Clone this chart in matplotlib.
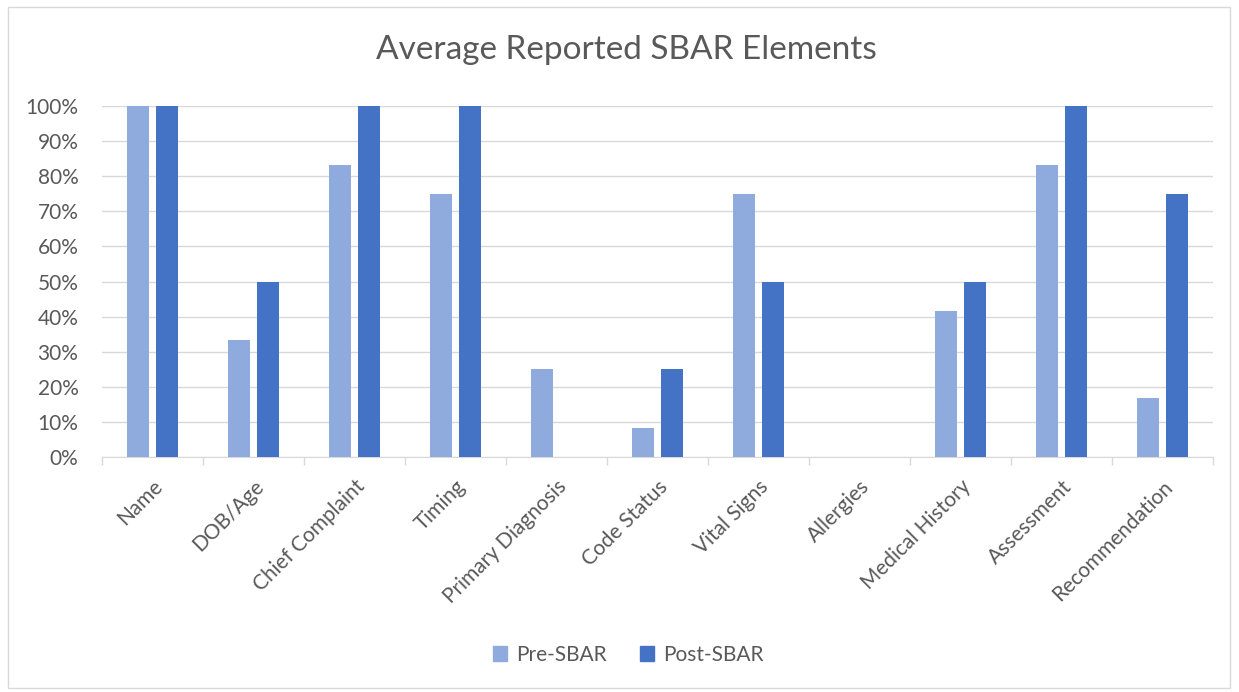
import matplotlib.pyplot as plt
import matplotlib.patches as mpatches
import numpy as np

plt.rcParams['font.family'] = ['Lato', 'DejaVu Sans']

categories = ["Name", "DOB/Age", "Chief Complaint", "Timing", "Primary Diagnosis",
              "Code Status", "Vital Signs", "Allergies", "Medical History",
              "Assessment", "Recommendation"]
pre_sbar = [100, 33.3, 83.3, 75, 25, 8.3, 75, 0, 41.7, 83.3, 16.7]
post_sbar = [100, 50, 100, 100, 0, 25, 50, 0, 50, 100, 75]

c_pre = "#8FAADC"
c_post = "#4472C4"
texte = "#595959"
grille = "#D9D9D9"

fig = plt.figure(figsize=(12.39, 6.92), dpi=100)
ax = fig.add_axes([102 / 1239, 1 - 457 / 692, 1111 / 1239, 351 / 692])

# bordure du graphique
fig.patches.append(mpatches.Rectangle((8 / 1239, 1 - 688 / 692), 1222 / 1239, 681 / 692,
                                      transform=fig.transFigure, fill=False,
                                      edgecolor="#D9D9D9", linewidth=1))

x = np.arange(len(categories))
largeur = 0.22
ax.bar(x - 0.145, pre_sbar, largeur, color=c_pre, label="Pre-SBAR", zorder=3)
ax.bar(x + 0.145, post_sbar, largeur, color=c_post, label="Post-SBAR", zorder=3)

ax.set_xlim(-0.5, len(categories) - 0.5)
ax.set_ylim(0, 100)
ax.set_yticks(np.arange(0, 101, 10))
ax.set_yticklabels([f"{v}%" for v in range(0, 101, 10)])
ax.yaxis.grid(True, color=grille, linewidth=1, zorder=0)
ax.tick_params(axis="y", length=0, labelsize=15, labelcolor=texte, pad=17)

ax.set_xticks(x)
ax.set_xticklabels(categories, rotation=45, ha="right", rotation_mode="anchor")
ax.tick_params(axis="x", length=0, labelsize=15, labelcolor=texte, pad=14)
ax.set_xticks(np.arange(-0.5, len(categories)), minor=True)
ax.tick_params(axis="x", which="minor", length=6, color=grille, width=1)

for s in ["top", "right", "left"]:
    ax.spines[s].set_visible(False)
ax.spines["bottom"].set_color(grille)

fig.text(626 / 1239, 1 - 50 / 692, "Average Reported SBAR Elements",
         ha="center", va="center", fontsize=24, color=texte)

fig.legend(handles=[mpatches.Patch(color=c_pre, label="Pre-SBAR"),
                    mpatches.Patch(color=c_post, label="Post-SBAR")],
           loc="center", bbox_to_anchor=(628 / 1239, 1 - 655 / 692), ncol=2,
           frameon=False, fontsize=15, labelcolor=texte, handlelength=0.7,
           handleheight=0.7, handletextpad=0.4, columnspacing=1.6)

fig.savefig("out.png", dpi=100)
